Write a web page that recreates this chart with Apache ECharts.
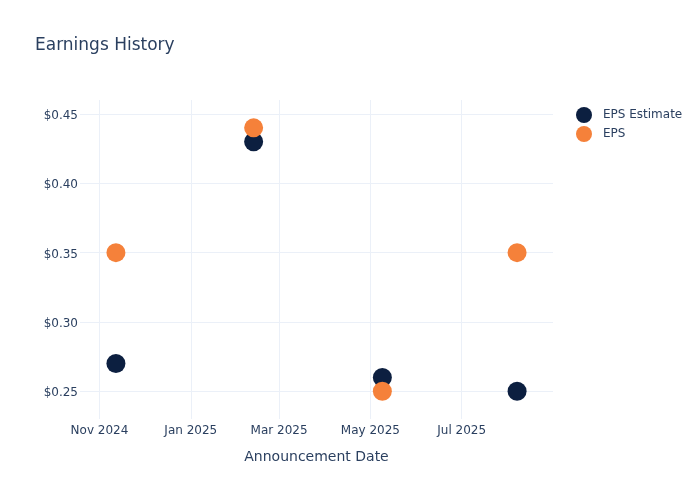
<!DOCTYPE html>
<html>
<head>
<meta charset="utf-8">
<script src="https://cdn.jsdelivr.net/npm/echarts@6/dist/echarts.min.js"></script>
<style>html,body{margin:0;padding:0;background:#fff}#c{width:700px;height:500px}</style>
</head>
<body>
<div id="c"></div>
<script>
const announceDates = ['2024-11-12', '2025-02-12', '2025-05-09', '2025-08-07'];
const epsEstimate = [0.27, 0.43, 0.26, 0.25];
const epsActual = [0.35, 0.44, 0.25, 0.35];
const xTickDates = ['2024-11-01', '2025-01-01', '2025-03-01', '2025-05-01', '2025-07-01'];
const xTickLabels = ['Nov 2024', 'Jan 2025', 'Mar 2025', 'May 2025', 'Jul 2025'];
const yTicks = [0.25, 0.30, 0.35, 0.40, 0.45];
const yTickLabels = ['$0.25', '$0.30', '$0.35', '$0.40', '$0.45'];

const ts = d => Date.parse(d + 'T00:00:00Z');
const xTickTs = xTickDates.map(ts);
const font = 'DejaVu Sans';
const txt = '#2a3f5f';
const grid = '#ebf0f8';

const chart = echarts.init(document.getElementById('c'), null, {renderer: 'canvas'});
chart.setOption({
  backgroundColor: '#fff',
  animation: false,
  textStyle: {fontFamily: font},
  title: {
    text: 'Earnings History', left: 30, top: 32,
    textStyle: {fontFamily: font, fontSize: 17, fontWeight: 'normal', color: txt}
  },
  legend: {
    orient: 'vertical', left: 571, top: 102, itemWidth: 16, itemHeight: 16, itemGap: 3,
    icon: 'circle',
    textStyle: {fontFamily: font, fontSize: 12, color: txt, padding: [0, 0, 0, 6]},
    data: ['EPS Estimate', 'EPS']
  },
  grid: {left: 80, right: 147, top: 100, bottom: 81, containLabel: false},
  xAxis: {
    type: 'value',
    min: ts('2024-10-19'), max: ts('2025-08-31'),
    name: 'Announcement Date', nameLocation: 'middle', nameGap: 31,
    nameTextStyle: {fontFamily: font, fontSize: 14, color: txt},
    axisLine: {show: false},
    axisTick: {show: false, customValues: xTickTs},
    axisLabel: {
      customValues: xTickTs, fontFamily: font, fontSize: 12, color: txt, margin: 6,
      formatter: v => { const i = xTickTs.indexOf(v); return i >= 0 ? xTickLabels[i] : ''; }
    },
    splitLine: {show: true, lineStyle: {color: grid, width: 1}}
  },
  yAxis: {
    type: 'value', min: 0.23, max: 0.4601,
    axisLine: {show: false},
    axisTick: {show: false, customValues: yTicks},
    axisLabel: {
      customValues: yTicks, fontFamily: font, fontSize: 12, color: txt, margin: 2,
      verticalAlign: 'top', lineHeight: 14, padding: [-5, 0, 0, 0],
      formatter: v => { const i = yTicks.findIndex(t => Math.abs(t - v) < 1e-9); return i >= 0 ? yTickLabels[i] : ''; }
    },
    splitLine: {show: true, lineStyle: {color: grid, width: 1}}
  },
  series: [
    {
      name: 'EPS Estimate', type: 'scatter', symbolSize: 19,
      itemStyle: {color: '#0c1f40', opacity: 1},
      data: announceDates.map((d, i) => [ts(d), epsEstimate[i]])
    },
    {
      name: 'EPS', type: 'scatter', symbolSize: 19,
      itemStyle: {color: '#f5813a', opacity: 1},
      data: announceDates.map((d, i) => [ts(d), epsActual[i]])
    }
  ]
});
</script>
</body>
</html>
